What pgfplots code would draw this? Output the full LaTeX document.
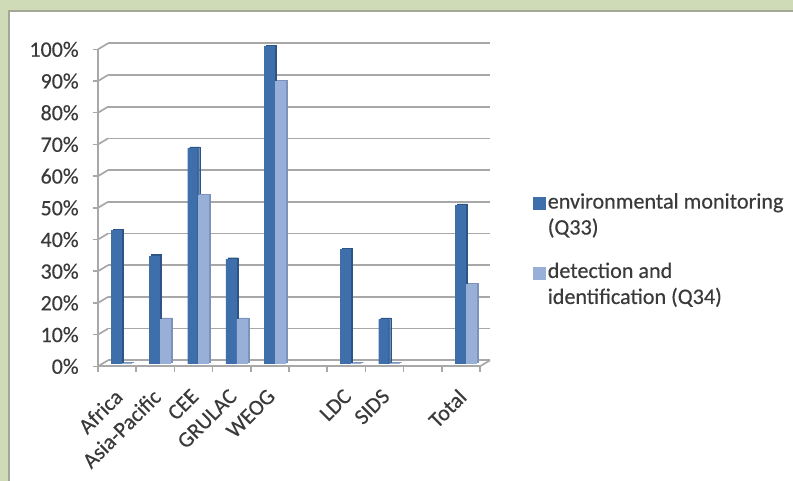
\documentclass[border=0pt]{standalone}
\usepackage{fontspec}
\setmainfont{Carlito}[FakeBold=0.35]
\usepackage{pgfplots}
\pgfplotsset{compat=1.18}
\definecolor{panelgreen}{HTML}{CFDBB6}
\definecolor{paneledge}{HTML}{A3A894}
\definecolor{gridc}{HTML}{A8A8A8}
\definecolor{txt}{HTML}{3A3A3A}
\definecolor{darkfront}{HTML}{3F6FAB}
\definecolor{darkside}{HTML}{2C5487}
\definecolor{lightfront}{HTML}{98AFD8}
\definecolor{lightside}{HTML}{7C93BE}

% 1 px of the reference = 0.75pt
\pgfplotsset{
  base/.style={
    scale only axis, anchor=south west, clip=false,
    width=286.5pt, height=237.75pt,
    xmin=0, xmax=10, ymin=0, ymax=100,
  },
  bars/.style={
    base, ybar, axis lines=none,
    bar width=7.5pt,
  },
}
\pgfplotstableread{
x    q33  q34
0.5  42   0
1.5  34   14
2.5  68   53
3.5  33   14
4.5  100  89
6.5  36   0
7.5  14   0
9.5  50   25
}\datatable

\begin{document}
\begin{tikzpicture}
\useasboundingbox (0,0) rectangle (594.75pt,360.75pt);
\fill[panelgreen] (0,0) rectangle (594.75pt,360.75pt);
\fill[white,draw=paneledge,line width=1.5pt] (7pt,-3pt) rectangle (600pt,352.5pt);

% back wall and floor
\begin{axis}[base, at={(81pt,90.5pt)},
    axis line style={draw=none}, tick style={draw=none},
    ytick={0,10,...,100}, yticklabels={}, ymajorgrids, xtick=\empty,
    grid style={gridc,line width=1.3pt}]
\addplot[draw=none] coordinates {(0,0) (10,100)};
\end{axis}

% front edge with ticks and labels
\begin{axis}[base, at={(73.5pt,86pt)},
    axis x line*=bottom, axis y line*=left,
    axis line style={gridc,line width=1.3pt,-},
    y tick style={gridc,line width=1.1pt},
    tick align=outside, major tick length=4pt,
    ytick={0,10,...,100},
    yticklabel={\pgfmathprintnumber[assume math mode=true]{\tick}\%},
    xtick={0.5,1.5,...,9.5},
    xticklabels={Africa,Asia-Pacific,CEE,GRULAC,WEOG,,LDC,SIDS,,Total},
    major x tick style={draw=none},
    minor xtick={0,1,...,10},
    minor tick length=4pt,
    minor x tick style={gridc,line width=1.1pt},
    x tick label style={rotate=45,anchor=north east,xshift=-7pt,yshift=-3pt},
    tick label style={font=\fontsize{16.5}{18}\selectfont,text=txt},
    y tick label style={xshift=-7pt},
  ]
\addplot[draw=none] coordinates {(0,0) (10,100)};
\pgfplotsinvokeforeach{0,10,...,100}{
  \draw[gridc,line width=1.3pt] (axis cs:0,#1) -- ++(7.5pt,4.5pt);
}
\draw[gridc,line width=1.3pt] (axis cs:10,0) -- ++(7.5pt,4.5pt);
\end{axis}

% bar sides and lids, behind the fronts
\begin{axis}[bars, at={(78.5pt,89pt)}]
\addplot[fill=darkside,draw=darkside,line width=0.3pt,bar shift=-4.1pt] table[x=x,y=q33] {\datatable};
\addplot[fill=lightside,draw=lightside,line width=0.3pt,bar shift=4.1pt] table[x=x,y=q34] {\datatable};
\end{axis}

% bar fronts and legend
\begin{axis}[bars, at={(77pt,88pt)},
    legend style={at={(axis description cs:1.125,0.547)},anchor=north west,
      draw=none,fill=none,inner sep=0pt,
      nodes={align=left,font=\fontsize{16.6}{19.5}\selectfont,text=txt},
      row sep=15.5pt},
    legend cell align=left,
    legend image code/.code={\fill[#1] (-1.5pt,4pt) rectangle (7.5pt,13pt);},
  ]
\addplot[fill=darkfront,draw=darkfront,line width=0.3pt,bar shift=-4.1pt] table[x=x,y=q33] {\datatable};
\addplot[fill=lightfront,draw=lightfront,line width=0.3pt,bar shift=4.1pt] table[x=x,y=q34] {\datatable};
\legend{environmental monitoring\\(Q33),detection and\\identification (Q34)}
\end{axis}
\end{tikzpicture}
\end{document}
